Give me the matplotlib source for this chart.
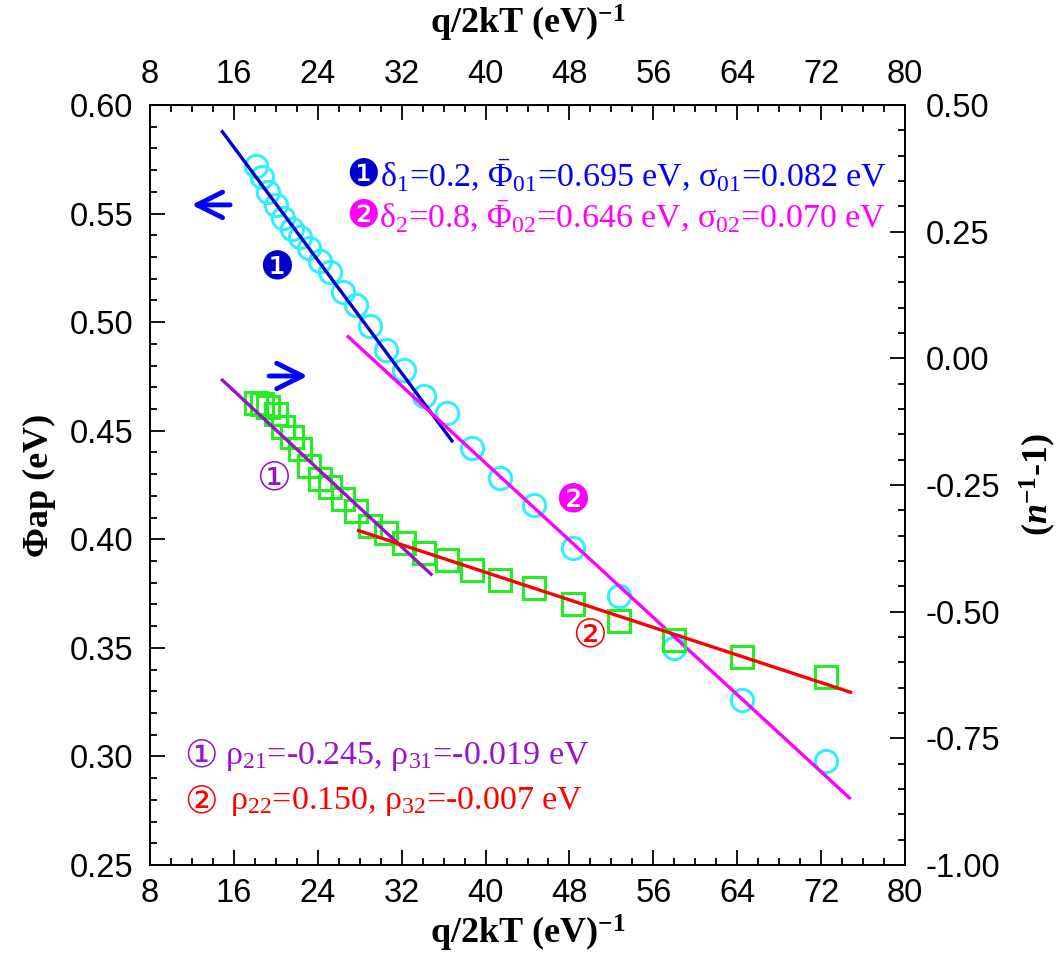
import matplotlib
matplotlib.use("Agg")
import matplotlib.pyplot as plt
from matplotlib.ticker import MultipleLocator, FormatStrFormatter

plt.rcParams["font.family"] = ["Liberation Sans", "DejaVu Sans"]
plt.rcParams["mathtext.fontset"] = "custom"
plt.rcParams["mathtext.rm"] = "Liberation Serif"
plt.rcParams["mathtext.it"] = "Liberation Serif:italic"
plt.rcParams["mathtext.bf"] = "Liberation Serif:bold"
plt.rcParams["mathtext.bfit"] = "Liberation Serif:italic:bold"

SERIF = ["Liberation Serif", "DejaVu Sans"]
SYMB = ["DejaVu Sans"]

# q/2kT for each measurement temperature
q2kt = [18.1, 18.7, 19.3, 20.0, 20.7, 21.5, 22.3, 23.2, 24.2, 25.2, 26.4, 27.6,
        29.0, 30.5, 32.2, 34.1, 36.3, 38.7, 41.4, 44.6, 48.3, 52.7, 58.0, 64.5, 72.5]

# apparent barrier height (left axis)
phi_ap = [0.572, 0.567, 0.560, 0.554, 0.548, 0.543, 0.539, 0.534, 0.528, 0.523,
          0.514, 0.508, 0.498, 0.487, 0.478, 0.466, 0.458, 0.442, 0.428, 0.416,
          0.396, 0.374, 0.350, 0.326, 0.298]

# n^-1 - 1 (right axis)
n_inv = [-0.088, -0.090, -0.096, -0.110, -0.136, -0.155, -0.179, -0.212, -0.238,
         -0.254, -0.278, -0.301, -0.330, -0.344, -0.364, -0.384, -0.399, -0.417,
         -0.437, -0.453, -0.484, -0.518, -0.555, -0.590, -0.628]

# fitted straight lines, (x0, x1), (y0, y1)
fit_phi1 = ([14.9, 36.8], [0.5877, 0.4453])
fit_phi2 = ([26.9, 74.7], [0.4933, 0.2809])
fit_n1 = ([14.9, 34.8], [-0.043, -0.426])
fit_n2 = ([27.9, 74.8], [-0.340, -0.659])

fig = plt.figure(figsize=(10.58, 9.65), dpi=100)
fig.subplots_adjust(left=150 / 1058, right=905 / 1058,
                    bottom=1 - 865 / 965, top=1 - 105 / 965)
ax = fig.add_subplot(111)
ax2 = ax.twinx()

ax.plot(q2kt, phi_ap, "o", ms=16, mfc="none", mec="#33EEFF", mew=2.2, zorder=3)
ax.plot(*fit_phi1, color="#0000CC", lw=2.4, zorder=4)
ax.plot(*fit_phi2, color="#FF00FF", lw=2.4, zorder=4)

ax2.plot(q2kt, n_inv, "s", ms=16.5, mfc="none", mec="#22EE22", mew=2.2, zorder=3)
ax2.plot(*fit_n1, color="#9911CC", lw=2.4, zorder=4)
ax2.plot(*fit_n2, color="#FF0000", lw=2.4, zorder=4)

ax.set_xlim(8, 80)
ax.set_ylim(0.25, 0.60)
ax2.set_ylim(-1.0, 0.5)

ax.xaxis.set_major_locator(MultipleLocator(8))
ax.xaxis.set_minor_locator(MultipleLocator(2))
ax.yaxis.set_major_locator(MultipleLocator(0.05))
ax.yaxis.set_minor_locator(MultipleLocator(0.01))
ax.yaxis.set_major_formatter(FormatStrFormatter("%.2f"))
ax2.yaxis.set_major_locator(MultipleLocator(0.25))
ax2.yaxis.set_minor_locator(MultipleLocator(0.05))
ax2.yaxis.set_major_formatter(FormatStrFormatter("%.2f"))

top = ax.secondary_xaxis("top")
top.xaxis.set_major_locator(MultipleLocator(8))
top.xaxis.set_minor_locator(MultipleLocator(2))

for a in (ax, ax2, top):
    a.tick_params(which="both", direction="in", labelsize=23.5, width=1.3)
    a.tick_params(which="major", length=11)
    a.tick_params(which="minor", length=5)
ax.tick_params(axis="x", pad=9)
ax.tick_params(axis="y", pad=12)
ax2.tick_params(axis="y", pad=15)
top.tick_params(axis="x", pad=11)
for a in (ax, ax2):
    for s in a.spines.values():
        s.set_linewidth(1.4)

xlabel = "q/2kT (eV)$^{\\mathbf{-1}}$"
ax.set_xlabel(xlabel, fontsize=26, fontweight="bold", family=SERIF, labelpad=3)
top.set_xlabel(xlabel, fontsize=26, fontweight="bold", family=SERIF, labelpad=18)
ax.set_ylabel("Φap (eV)", fontsize=26, fontweight="bold", family=SERIF, labelpad=10)
ax2.set_ylabel("($\\mathbfit{n}^{\\mathbf{-1}}$-1)", fontsize=26, fontweight="bold",
               family=SERIF, labelpad=12, rotation=90)

# direction arrows pointing to each curve's axis
arrow = dict(arrowstyle="->", color="#0000FF", lw=3.5, mutation_scale=46)
ax.annotate("", xy=(11.7, 0.554), xytext=(15.9, 0.554), arrowprops=arrow)
ax.annotate("", xy=(23.3, 0.4752), xytext=(19.1, 0.4752), arrowprops=arrow)

tr = ax.transAxes
legend_rows = [
    (0.2828, 0.305, 0.9066, "❶", "#0000CC", "#0000FF",
     "δ$_1$=0.2, $\\bar{\\Phi}_{01}$=0.695 eV, σ$_{01}$=0.082 eV"),
    (0.2828, 0.303, 0.8526, "❷", "#FF00FF", "#FF00FF",
     "δ$_2$=0.8, $\\bar{\\Phi}_{02}$=0.646 eV, σ$_{02}$=0.070 eV"),
    (0.0675, 0.099, 0.1434, "①", "#9911CC", "#9911CC",
     "ρ$_{21}$=-0.245, ρ$_{31}$=-0.019 eV"),
    (0.0675, 0.106, 0.0829, "②", "#FF0000", "#FF0000",
     "ρ$_{22}$=0.150, ρ$_{32}$=-0.007 eV"),
]
for xs, xt, y, sym, csym, ctxt, label in legend_rows:
    ax.text(xs, y, sym, transform=tr, color=csym, fontsize=27, family=SYMB,
            ha="center", va="center")
    ax.text(xt, y, label, transform=tr, color=ctxt, fontsize=24.5,
            family=SERIF, va="center")

# curve tags next to each fitted segment
tags = [(0.168, 0.7855, "❶", "#0000CC"), (0.5603, 0.480, "❷", "#FF00FF"),
        (0.163, 0.509, "①", "#9911CC"), (0.5828, 0.3026, "②", "#FF0000")]
for x, y, sym, c in tags:
    ax.text(x, y, sym, transform=tr, color=c, fontsize=28, family=SYMB,
            ha="center", va="center")

fig.savefig("out.png", dpi=100)
